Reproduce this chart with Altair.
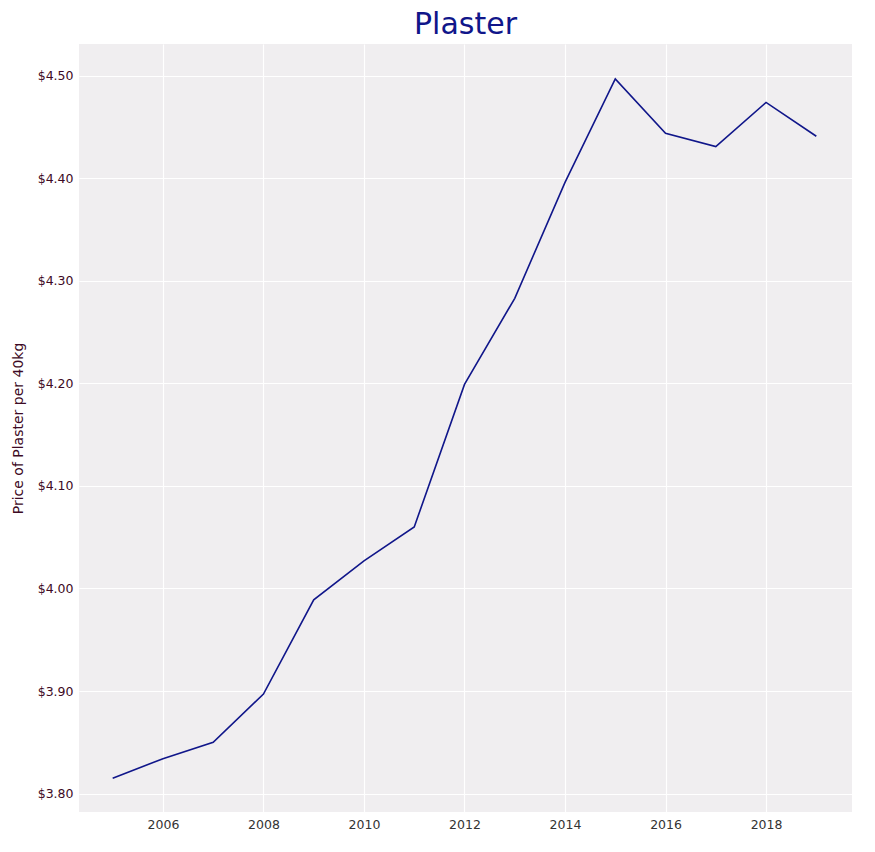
import altair as alt
import pandas as pd

years = list(range(2005, 2020))
prices = [3.815, 3.834, 3.850, 3.897, 3.989, 4.027, 4.060, 4.199, 4.283,
          4.396, 4.497, 4.444, 4.431, 4.474, 4.441]

df = pd.DataFrame({"Year": years, "Price": prices})

line = alt.Chart(df).mark_line(color="#10168a", strokeWidth=1.6).encode(
    x=alt.X("Year:Q", title=None,
            scale=alt.Scale(domain=[2004.33, 2019.71], nice=False, zero=False),
            axis=alt.Axis(values=list(range(2006, 2020, 2)), format="d",
                          labelColor="#333333", labelFontSize=12.5, labelPadding=6)),
    y=alt.Y("Price:Q", title="Price of Plaster per 40kg",
            scale=alt.Scale(domain=[3.782, 4.531], nice=False, zero=False),
            axis=alt.Axis(values=[3.8, 3.9, 4.0, 4.1, 4.2, 4.3, 4.4, 4.5], format="$.2f",
                          labelColor="#3d0a24", titleColor="#3d0a24", labelFontSize=12.5,
                          titleFontSize=14, titleFontWeight="normal", labelPadding=6,
                          titlePadding=12)),
).properties(
    width=773, height=768,
    padding={"left": 3, "top": 2, "right": 5, "bottom": 5},
    title=alt.Title("Plaster", fontSize=30, color="#10168a", fontWeight="normal"),
).configure_view(
    fill="#f0eef0", stroke=None
).configure_axis(
    gridColor="white", gridWidth=1.2, domain=False, ticks=False,
    labelFont="DejaVu Sans", titleFont="DejaVu Sans"
).configure_title(font="DejaVu Sans", offset=4)

line.save("out.html", embed_options={"renderer": "svg", "actions": False})
